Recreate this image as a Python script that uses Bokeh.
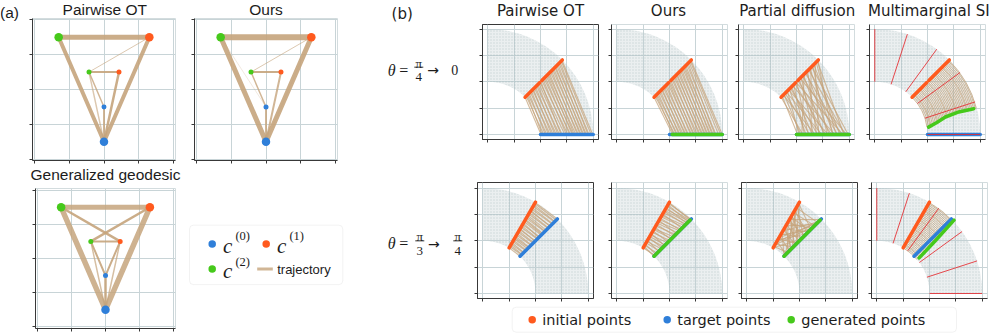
import numpy as np
from bokeh.plotting import figure
from bokeh.layouts import row, column
from bokeh.models import Range1d, FixedTicker, BoxAnnotation
from bokeh.core.properties import value
from bokeh.embed import file_html
from bokeh.resources import INLINE

# ---------------- colours ----------------
ORANGE = "#ff5a1e"
BLUE = "#2f7fd9"
GREEN = "#46c91b"
TAN = "#c5a47c"
RED = "#e52a2f"
CLOUD = "#bccbcd"
GRID = "#c8d4d7"
SPINE = "#383838"
TEXT = "#1c1c1c"

# ================= panel (a) data =================
A_TITLES = ["Pairwise OT", "Ours", "Generalized geodesic"]
A_TICKS = [-2, -1, 0, 1, 2]
# points: big c0, big c1, big c2, small c0, small c1, small c2
PT_X = [0.0, 1.3, -1.3, 0.0, 0.43, -0.43]
PT_Y = [-1.5, 1.5, 1.5, -0.5, 0.5, 0.5]
PT_CLASS = [0, 1, 2, 0, 1, 2]
PT_BIG = [True, True, True, False, False, False]
CLASS_COLORS = [BLUE, ORANGE, GREEN]

A1_FROM = [2, 2, 1, 5, 5, 4, 5, 5, 3]
A1_TO = [1, 0, 0, 4, 3, 0, 0, 1, 0]
A1_W = [5, 4, 4, 2, 1.5, 2.5, 1.5, 1, 2]
A1_ALPHA = [0.9, 0.9, 0.9, 0.9, 0.8, 0.9, 0.6, 0.6, 0.8]

A2_FROM = [2, 2, 1, 5, 5, 5, 4, 3, 2, 1]
A2_TO = [1, 0, 0, 4, 1, 3, 0, 0, 3, 0]
A2_W = [6, 5, 5, 2, 1, 1.5, 2, 2, 0.8, 0.8]
A2_ALPHA = [0.9, 0.9, 0.9, 0.9, 0.6, 0.8, 0.8, 0.8, 0.3, 0.25]

A3_FROM = [2, 2, 1, 2, 1, 5, 5, 4, 3, 5, 4]
A3_TO = [1, 0, 0, 4, 5, 4, 3, 3, 0, 0, 0]
A3_W = [5, 5.5, 5.5, 2.5, 2.5, 2, 2, 2, 2.5, 1.5, 1.5]
A3_ALPHA = [0.85, 0.85, 0.85, 0.9, 0.9, 0.9, 0.9, 0.9, 0.9, 0.7, 0.7]

LEG_A_SUP = ["(0)", "(1)", "(2)"]
LEG_A_LINE = "trajectory"

# ================= panel (b) data =================
B_TITLES = ["Pairwise OT", "Ours", "Partial diffusion", "Multimarginal SI"]
B_TICKS = [0, 0.5, 1, 1.5, 2]
CLOUD_R = [1.0, 2.0]
CLOUD_DEG = [0, 90]
INIT_DEG = [45, 60]
TARGET_DEG = [0, 45]
INIT_R_ROWS = [[[1.0, 1.39], [1.45, 2.0]], [[1.0, 2.0]]]
TARGET_R = [1.0, 2.0]
MARGINAL_DEG = [0, 18, 36, 54, 72, 90]
MARGINAL_R = [1.0, 2.0]

TRAJ_START_R = [1.00, 1.03, 1.06, 1.08, 1.11, 1.14, 1.17, 1.20, 1.22, 1.25, 1.28, 1.31,
                1.34, 1.37, 1.40, 1.42, 1.45, 1.48, 1.51, 1.54, 1.57, 1.60, 1.62, 1.65,
                1.68, 1.71, 1.74, 1.77, 1.80, 1.82, 1.85, 1.88, 1.91, 1.94, 1.97, 1.99]
END_PW1 = [1.01, 1.06, 1.03, 1.12, 1.09, 1.18, 1.15, 1.24, 1.21, 1.30, 1.27, 1.36,
           1.33, 1.41, 1.46, 1.39, 1.52, 1.49, 1.57, 1.55, 1.62, 1.60, 1.67, 1.64,
           1.72, 1.70, 1.77, 1.75, 1.82, 1.80, 1.87, 1.85, 1.92, 1.90, 1.96, 1.99]
END_OURS1 = [1.06, 1.10, 1.08, 1.15, 1.13, 1.20, 1.18, 1.26, 1.23, 1.31, 1.29, 1.36,
             1.34, 1.42, 1.40, 1.47, 1.45, 1.53, 1.50, 1.58, 1.56, 1.63, 1.61, 1.68,
             1.66, 1.73, 1.71, 1.78, 1.76, 1.83, 1.81, 1.88, 1.86, 1.93, 1.97, 2.00]
END_PD1 = [1.12, 1.02, 1.35, 1.08, 1.25, 1.48, 1.05, 1.60, 1.18, 1.40, 1.30, 1.72,
           1.15, 1.55, 1.88, 1.22, 1.66, 1.45, 1.95, 1.32, 1.78, 1.52, 1.10, 1.85,
           1.62, 1.38, 1.92, 1.70, 1.28, 1.98, 1.58, 1.82, 1.42, 1.75, 1.90, 1.68]
MM1_END_DEG = [8.0, 8.8, 9.5, 10.0, 10.6, 11.2, 11.6, 12.1, 12.5, 12.9, 13.3, 13.6,
               13.9, 14.1, 14.3, 14.5, 14.6, 14.8, 14.9, 15.0, 15.0, 15.1, 15.0, 15.0,
               15.0, 14.9, 14.9, 14.8, 14.8, 14.7, 14.7, 14.6, 14.6, 14.6, 14.5, 14.5]
END_PW2 = [1.00, 1.04, 1.05, 1.09, 1.10, 1.15, 1.16, 1.20, 1.23, 1.24, 1.29, 1.30,
           1.35, 1.36, 1.41, 1.40, 1.46, 1.47, 1.52, 1.50, 1.57, 1.59, 1.61, 1.66,
           1.67, 1.70, 1.75, 1.76, 1.81, 1.80, 1.86, 1.87, 1.92, 1.93, 1.97, 2.00]
END_OURS2 = [1.02, 1.00, 1.08, 1.05, 1.14, 1.20, 1.12, 1.26, 1.22, 1.30, 1.36, 1.28,
             1.42, 1.38, 1.47, 1.52, 1.45, 1.58, 1.55, 1.63, 1.68, 1.60, 1.72, 1.70,
             1.78, 1.82, 1.75, 1.86, 1.84, 1.90, 1.94, 1.88, 1.96, 1.92, 1.99, 1.97]
END_PD2 = [1.45, 1.10, 1.80, 1.25, 1.95, 1.05, 1.60, 1.35, 1.88, 1.15, 1.70, 1.50,
           1.00, 1.92, 1.30, 1.65, 1.20, 1.85, 1.40, 1.75, 1.08, 1.55, 1.98, 1.28,
           1.68, 1.45, 1.12, 1.82, 1.38, 1.62, 1.22, 1.90, 1.52, 1.02, 1.72, 1.32]
MM2_END_DEG = [40.0, 40.2, 40.3, 40.4, 40.6, 40.7, 40.9, 41.0, 41.1, 41.3, 41.4, 41.5,
               41.7, 41.8, 41.9, 42.0, 42.2, 42.3, 42.4, 42.5, 42.6, 42.7, 42.8, 42.9,
               43.0, 43.0, 43.1, 43.2, 43.2, 43.3, 43.3, 43.4, 43.4, 43.5, 43.5, 43.5]

GEN_OURS1_R, GEN_OURS1_DEG = [1.05, 2.0], [0, 0]
GEN_PD1_R, GEN_PD1_DEG = [1.0, 2.0], [0, 0]
GEN_MM1_R, GEN_MM1_DEG = [1.03, 1.2, 1.38, 1.65, 1.94], [7.8, 11.0, 13.9, 15.0, 14.6]
GEN_OURS2_R, GEN_OURS2_DEG = [1.0, 1.97], [45, 45]
GEN_PD2_R, GEN_PD2_DEG = [1.0, 1.97], [45, 45]
GEN_MM2_R, GEN_MM2_DEG = [1.05, 1.5, 2.02], [40.0, 42.0, 43.5]

LEG_B_LABELS = ["initial points", "target points", "generated points"]
LEG_B_COLORS = [ORANGE, BLUE, GREEN]


# ================= helpers =================
def pol(r, deg):
    r = np.asarray(r, float)
    a = np.radians(np.asarray(deg, float))
    return list(r * np.cos(a)), list(r * np.sin(a))


def text_fig(w, h):
    p = figure(width=w, height=h, x_range=Range1d(0, w), y_range=Range1d(h, 0),
               min_border=0, toolbar_location=None, output_backend="svg",
               x_axis_type=None, y_axis_type=None)
    p.outline_line_color = None
    return p


def txt(p, x, y, s, size, font="DejaVu Sans", align="center", style="normal",
        color=TEXT, baseline="middle"):
    p.text(x=[x], y=[y], text=[s], text_font=value(font), text_font_size=f"{size}px",
           text_align=align, text_baseline=baseline, text_font_style=style,
           text_color=color)


def sub_fig(w, h, bl, br, bt, bb, xr, yr, ticks, dark=False):
    p = figure(width=w, height=h, x_range=Range1d(*xr), y_range=Range1d(*yr),
               min_border_left=bl, min_border_right=br, min_border_top=bt,
               min_border_bottom=bb, toolbar_location=None, output_backend="svg")
    tk = FixedTicker(ticks=ticks)
    for ax in (p.xaxis[0], p.yaxis[0]):
        ax.ticker = tk
        ax.major_label_text_font_size = "1px"
        ax.major_label_text_color = None
        ax.major_label_standoff = 0
        ax.major_tick_out = 3
        ax.major_tick_in = 0
        ax.minor_tick_line_color = None
        ax.axis_line_color = SPINE
        ax.major_tick_line_color = SPINE
    for g in (p.xgrid[0], p.ygrid[0]):
        g.ticker = tk
        g.grid_line_color = GRID
    p.outline_line_color = SPINE if dark else "#d3dcde"
    return p


def a_panel(w, h, bl, br, bt, bb, t_from, t_to, t_w, t_a, dark=False):
    fw, fh = w - bl - br, h - bt - bb
    hx = 2.05
    hy = hx * fh / fw
    p = sub_fig(w, h, bl, br, bt, bb, (-hx, hx), (-hy, hy), A_TICKS, dark)
    p.segment(x0=[PT_X[i] for i in t_from], y0=[PT_Y[i] for i in t_from],
              x1=[PT_X[j] for j in t_to], y1=[PT_Y[j] for j in t_to],
              line_color=TAN, line_width=t_w, line_alpha=t_a, line_cap="round")
    p.scatter(x=PT_X, y=PT_Y, size=[8.5 if b else 5 for b in PT_BIG],
              color=[CLASS_COLORS[c] for c in PT_CLASS], line_color=None)
    return p


def b_panel(w, h, bl, br, bt, bb, ri, kind, end_r=None, end_deg=None,
            gen=None, dark=False):
    fw, fh = w - bl - br, h - bt - bb
    x0, x1 = -0.1, 2.1
    y0 = -0.095
    y1 = y0 + (x1 - x0) * fh / fw
    p = sub_fig(w, h, bl, br, bt, bb, (x0, x1), (y0, y1), B_TICKS, dark)
    p.annular_wedge(x=[0], y=[0], inner_radius=CLOUD_R[0], outer_radius=CLOUD_R[1],
                    start_angle=float(np.radians(CLOUD_DEG[0])),
                    end_angle=float(np.radians(CLOUD_DEG[1])),
                    fill_color=CLOUD, fill_alpha=0.3, line_color=None,
                    hatch_pattern="dot", hatch_color="#8fa6a8", hatch_alpha=0.35,
                    hatch_scale=3, hatch_weight=1)
    a_init, a_tgt = INIT_DEG[ri], TARGET_DEG[ri]
    n = len(TRAJ_START_R)
    if kind == "mm":
        p.arc(x=[0] * n, y=[0] * n, radius=TRAJ_START_R,
              start_angle=list(np.radians(end_deg)),
              end_angle=list(np.radians([a_init] * n)), direction="anticlock",
              line_color=TAN, line_alpha=0.75, line_width=1.0)
    else:
        xs, ys = pol(TRAJ_START_R, [a_init] * n)
        xe, ye = pol(end_r, [a_tgt] * n)
        p.segment(x0=xs, y0=ys, x1=xe, y1=ye, line_color=TAN, line_alpha=0.75,
                  line_width=1.1)
    for seg in INIT_R_ROWS[ri]:
        xa, ya = pol(seg, [a_init] * len(seg))
        p.line(xa, ya, line_color=ORANGE, line_width=3.5, line_cap="round")
    xt, yt = pol(TARGET_R, [a_tgt] * 2)
    p.line(xt, yt, line_color=BLUE, line_width=3.5, line_cap="round")
    if gen is not None:
        xg, yg = pol(gen[0], gen[1])
        p.line(xg, yg, line_color=GREEN, line_width=3.5, line_cap="round",
               line_join="round")
    if kind == "mm":
        m = len(MARGINAL_DEG)
        xa, ya = pol([MARGINAL_R[0]] * m, MARGINAL_DEG)
        xb, yb = pol([MARGINAL_R[1]] * m, MARGINAL_DEG)
        p.segment(x0=xa, y0=ya, x1=xb, y1=yb, line_color=RED, line_width=1,
                  line_alpha=0.85)
    return p


def make_box(l, r, t, b):
    kw = dict(left=l, right=r, top=t, bottom=b, fill_alpha=0,
              line_color="#d4d4d4", line_width=1)
    try:
        return BoxAnnotation(border_radius=4, **kw)
    except Exception:
        return BoxAnnotation(**kw)


# ================= column A (panel a) =================
labA = text_fig(22, 165)
txt(labA, 9, 12, "(a)", 15.5, font="Liberation Sans")

textA1 = text_fig(328, 18)
txt(textA1, 82.3, 9.3, A_TITLES[0], 15.5, font="Liberation Sans")
txt(textA1, 243.5, 9.3, A_TITLES[1], 15.5, font="Liberation Sans")

a1 = a_panel(163, 147, 10, 10, 0, 5, A1_FROM, A1_TO, A1_W, A1_ALPHA)
a2 = a_panel(165, 147, 9, 13, 0, 5, A2_FROM, A2_TO, A2_W, A2_ALPHA)

textA2 = text_fig(350, 20)
txt(textA2, 105, 9.0, A_TITLES[2], 15.5, font="Liberation Sans")

a3 = a_panel(182, 149, 35, 7, 3, 6, A3_FROM, A3_TO, A3_W, A3_ALPHA)

legA = text_fig(168, 149)
legA.add_layout(make_box(7, 160.3, 39, 102.3))
dot_x = [29.7, 83.7, 29.7]
dot_y = [59.0, 59.0, 85.7]
legA.scatter(x=dot_x, y=dot_y, size=7.5, color=CLASS_COLORS, line_color=None)
for k in range(3):
    txt(legA, dot_x[k] + 15.5, dot_y[k] + 2.5, "c", 21, font="Liberation Serif",
        style="italic")
    txt(legA, dot_x[k] + 30.5, dot_y[k] - 8.0, LEG_A_SUP[k], 12.5,
        font="Liberation Serif")
legA.line([74.7, 90.3], [85.7, 85.7], line_color=TAN, line_width=3, line_alpha=0.8)
txt(legA, 94.7, 86, LEG_A_LINE, 13, font="Liberation Sans", align="left")

colA = column(row(labA, column(textA1, row(a1, a2))), textA2, row(a3, legA))

# ================= column B (panel b) =================
textB1 = text_fig(646, 23)
txt(textB1, 51.7, 13.2, "(b)", 15)
for cx, t in zip([190, 318, 446.7, 578.3], B_TITLES):
    txt(textB1, cx, 10.5, t, 15)


def theta_label(p, cy, parts):
    txt(p, 41.2, cy, "θ", 16, font="Liberation Serif", style="italic")
    txt(p, 53.3, cy, "=", 16, font="Liberation Serif")
    for x, kind, s in parts:
        if kind == "frac":
            txt(p, x, cy - 8.6, "π", 13, font="Liberation Serif")
            p.line([x - 4.5, x + 4.5], [cy - 3.6, cy - 3.6], line_color=TEXT,
                   line_width=0.9)
            txt(p, x, cy + 8.9, s, 13, font="Liberation Serif")
        elif kind == "arrow":
            txt(p, x, cy, "→", 14, font="DejaVu Sans")
        else:
            txt(p, x, cy, s, 14, font="Liberation Serif")


labB1 = text_fig(127, 142)
theta_label(labB1, 56.3, [(68.3, "frac", "4"), (82.7, "arrow", ""), (104.3, "num", "0")])

b1 = b_panel(127, 142, 5, 6, 1, 26, 0, "seg", end_r=END_PW1, dark=True)
b2 = b_panel(128, 142, 7, 5, 1, 26, 0, "seg", end_r=END_OURS1,
             gen=(GEN_OURS1_R, GEN_OURS1_DEG))
b3 = b_panel(129, 142, 6, 7, 1, 26, 0, "seg", end_r=END_PD1,
             gen=(GEN_PD1_R, GEN_PD1_DEG))
b4 = b_panel(135, 142, 8, 11, 1, 26, 0, "mm", end_deg=MM1_END_DEG,
             gen=(GEN_MM1_R, GEN_MM1_DEG))

labB2 = text_fig(121, 140)
theta_label(labB2, 74, [(69.3, "frac", "3"), (83.3, "arrow", ""), (107.3, "frac", "4")])

b5 = b_panel(131, 140, 6, 9, 17, 7, 1, "seg", end_r=END_PW2, dark=True)
b6 = b_panel(130, 140, 9, 5, 17, 7, 1, "seg", end_r=END_OURS2,
             gen=(GEN_OURS2_R, GEN_OURS2_DEG))
b7 = b_panel(131, 140, 9, 6, 17, 7, 1, "seg", end_r=END_PD2,
             gen=(GEN_PD2_R, GEN_PD2_DEG), dark=True)
b8 = b_panel(133, 140, 8, 9, 17, 7, 1, "mm", end_deg=MM2_END_DEG,
             gen=(GEN_MM2_R, GEN_MM2_DEG))

legB = text_fig(646, 29)
legB.add_layout(make_box(161.7, 606, 1.7, 26.7))
lx_dot = [181.7, 316.7, 440.7]
legB.scatter(x=lx_dot, y=[14.3] * 3, size=7.5, color=LEG_B_COLORS, line_color=None)
for xd, lab in zip(lx_dot, LEG_B_LABELS):
    txt(legB, xd + 10, 14.6, lab, 14.5, align="left")

colB = column(textB1, row(labB1, b1, b2, b3, b4), row(labB2, b5, b6, b7, b8), legB)

layout = row(colA, colB)

with open("out.html", "w") as f:
    f.write(file_html(layout, INLINE))
